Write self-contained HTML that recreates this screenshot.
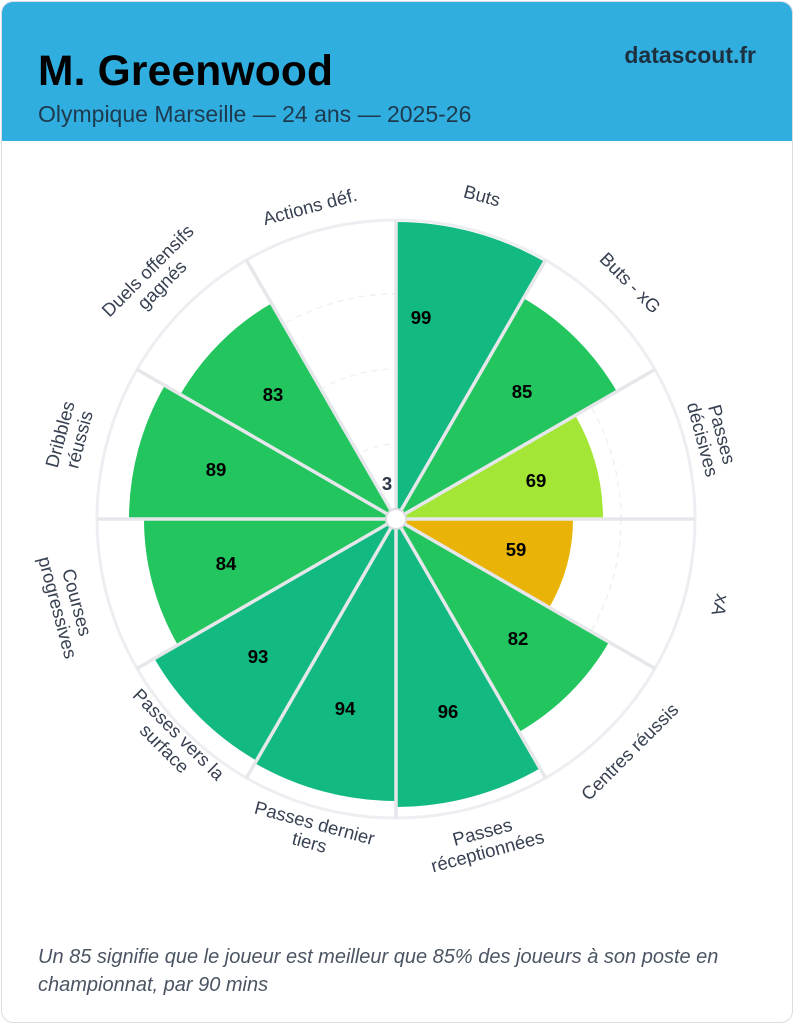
<!DOCTYPE html>
<html><head><meta charset="utf-8"><style>
html,body{margin:0;padding:0;background:#fff;}
body{width:794px;height:1024px;position:relative;overflow:hidden;font-family:"Liberation Sans",Arial,sans-serif;}
.card{position:absolute;left:1px;top:1px;width:790px;height:1020px;border:1px solid #d9dde3;border-radius:12px;overflow:hidden;background:#fff;}
.hdr{position:absolute;left:0;top:0;width:790px;height:139px;background:#30aee0;}
.t{position:absolute;left:36px;top:46px;font-size:42.5px;font-weight:bold;color:#000;letter-spacing:0.2px;}
.s{position:absolute;left:36px;top:99px;font-size:23px;color:#1d3a4e;}
.d{position:absolute;right:36px;top:40px;font-size:23px;font-weight:bold;color:#1d3040;}
.f{position:absolute;left:36px;top:941px;font-size:20px;font-style:italic;color:#4b5563;line-height:28px;width:740px;}
svg{position:absolute;left:0;top:0;}
</style></head><body>
<div class="card">
<div class="hdr"></div>
<div class="t">M. Greenwood</div>
<div class="s">Olympique Marseille — 24 ans — 2025-26</div>
<div class="d">datascout.fr</div>
<div class="f">Un 85 signifie que le joueur est meilleur que 85% des joueurs à son poste en championnat, par 90 mins</div>
</div>
<svg width="794" height="1024" viewBox="0 0 794 1024">
<circle cx="396" cy="519" r="299" fill="#fff" stroke="#eceef1" stroke-width="3"/>
<g fill="none" stroke="#f0f1f3" stroke-width="1.5" stroke-dasharray="6,5">
<circle cx="396" cy="519" r="75"/><circle cx="396" cy="519" r="150"/><circle cx="396" cy="519" r="225"/>
</g>
<g>
<path d="M396 519 L396 222 A297 297 0 0 1 544.5 261.8 Z" fill="#12b981"/>
<path d="M396 519 L523.5 298.2 A255 255 0 0 1 616.8 391.5 Z" fill="#22c55e"/>
<path d="M396 519 L575.3 415.5 A207 207 0 0 1 603 519 Z" fill="#a3e635"/>
<path d="M396 519 L573 519 A177 177 0 0 1 549.3 607.5 Z" fill="#eab308"/>
<path d="M396 519 L609 642 A246 246 0 0 1 519 732 Z" fill="#22c55e"/>
<path d="M396 519 L540 768.4 A288 288 0 0 1 396 807 Z" fill="#12b981"/>
<path d="M396 519 L396 801 A282 282 0 0 1 255 763.2 Z" fill="#12b981"/>
<path d="M396 519 L256.5 760.6 A279 279 0 0 1 154.4 658.5 Z" fill="#12b981"/>
<path d="M396 519 L177.8 645 A252 252 0 0 1 144 519 Z" fill="#22c55e"/>
<path d="M396 519 L129 519 A267 267 0 0 1 164.8 385.5 Z" fill="#22c55e"/>
<path d="M396 519 L180.4 394.5 A249 249 0 0 1 271.5 303.4 Z" fill="#22c55e"/>
</g>
<g stroke="#e5e7eb" stroke-width="3.5">
<line x1="396" y1="519" x2="396" y2="220"/>
<line x1="396" y1="519" x2="545.5" y2="260.1"/>
<line x1="396" y1="519" x2="654.9" y2="369.5"/>
<line x1="396" y1="519" x2="695" y2="519"/>
<line x1="396" y1="519" x2="654.9" y2="668.5"/>
<line x1="396" y1="519" x2="545.5" y2="777.9"/>
<line x1="396" y1="519" x2="396" y2="818"/>
<line x1="396" y1="519" x2="246.5" y2="777.9"/>
<line x1="396" y1="519" x2="137.1" y2="668.5"/>
<line x1="396" y1="519" x2="97" y2="519"/>
<line x1="396" y1="519" x2="137.1" y2="369.5"/>
<line x1="396" y1="519" x2="246.5" y2="260.1"/>
</g>
<circle cx="396" cy="519" r="10" fill="#fff" stroke="#d9dbe0" stroke-width="2"/>
<g font-family="Liberation Sans, Arial, sans-serif" font-size="18.5" font-weight="bold" fill="#000" text-anchor="middle">
<text x="421" y="324">99</text>
<text x="522" y="398">85</text>
<text x="536" y="487">69</text>
<text x="516" y="556">59</text>
<text x="518" y="645">82</text>
<text x="448" y="718">96</text>
<text x="345" y="715">94</text>
<text x="258" y="663">93</text>
<text x="226" y="570">84</text>
<text x="216" y="476">89</text>
<text x="273" y="401">83</text>
<text x="387" y="490" fill="#2d3748">3</text>
</g>
<g font-family="Liberation Sans, Arial, sans-serif" font-size="18.5" fill="#374151" text-anchor="middle">
<text transform="translate(310,207) rotate(-15)" y="6">Actions déf.</text>
<text transform="translate(482,196) rotate(15)" y="6">Buts</text>
<text transform="translate(630,283) rotate(45)" y="6">Buts - xG</text>
<text transform="translate(712,437) rotate(75)"><tspan x="0" y="-4">Passes</tspan><tspan x="0" y="16">décisives</tspan></text>
<text transform="translate(720,605) rotate(105)" y="6">xA</text>
<text transform="translate(630,752) rotate(-45)" y="6">Centres réussis</text>
<text transform="translate(485,842) rotate(-15)"><tspan x="0" y="-4">Passes</tspan><tspan x="0" y="16">réceptionnées</tspan></text>
<text transform="translate(312,833) rotate(15)"><tspan x="0" y="-4">Passes dernier</tspan><tspan x="0" y="16">tiers</tspan></text>
<text transform="translate(165,748) rotate(45)"><tspan x="0" y="-13">Passes vers la</tspan><tspan x="0" y="7">surface</tspan></text>
<text transform="translate(67,605) rotate(75)"><tspan x="0" y="-4">Courses</tspan><tspan x="0" y="16">progressives</tspan></text>
<text transform="translate(70,437) rotate(-75)"><tspan x="0" y="-4">Dribbles</tspan><tspan x="0" y="16">réussis</tspan></text>
<text transform="translate(155,278) rotate(-45)"><tspan x="0" y="-4">Duels offensifs</tspan><tspan x="0" y="16">gagnés</tspan></text>
</g>
</svg>
</body></html>
